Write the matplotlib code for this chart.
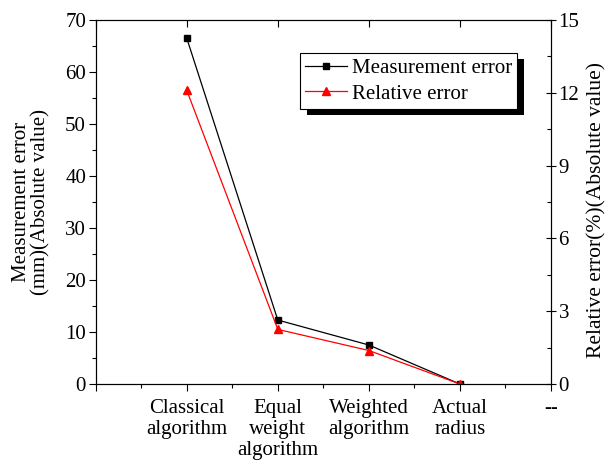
import matplotlib
matplotlib.use("Agg")
from matplotlib import pyplot as plt
from matplotlib.ticker import MultipleLocator
from matplotlib.patches import Rectangle
from matplotlib.transforms import IdentityTransform
import matplotlib.markers as mmarkers

plt.rcParams['font.family'] = ['Liberation Serif', 'DejaVu Serif']

# data
categories = ["", "Classical\nalgorithm", "Equal\nweight\nalgorithm",
              "Weighted\nalgorithm", "Actual\nradius", "--"]
x_pos = [1, 2, 3, 4]
measurement_error = [66.5, 12.3, 7.5, 0.0]
relative_error = [12.1, 2.25, 1.38, 0.0]

fs = 15
fig = plt.figure(figsize=(6.1, 4.66), dpi=100)
ax = fig.add_axes([0.157, 0.176, 0.746, 0.781])
ax2 = ax.twinx()

l1, = ax.plot(x_pos, measurement_error, color="black", marker="s",
              markersize=5, linewidth=0.9, label="Measurement error")
l2, = ax2.plot(x_pos, relative_error, color="red", marker="^",
               markersize=6, linewidth=0.9, label="Relative error")

ax.set_xlim(0, 5)
ax.set_ylim(0, 70)
ax2.set_ylim(0, 15)
ax.set_xticks(range(6))
ax.set_xticklabels(categories, fontsize=fs, linespacing=1.15)
ax.xaxis.set_minor_locator(MultipleLocator(0.5))
ax.yaxis.set_major_locator(MultipleLocator(10))
ax.yaxis.set_minor_locator(MultipleLocator(5))
ax2.yaxis.set_major_locator(MultipleLocator(3))
ax2.yaxis.set_minor_locator(MultipleLocator(1.5))

ax.tick_params(axis="x", which="major", direction="out", length=5, width=0.8,
               labelsize=fs, top=True, pad=6)
ax.tick_params(axis="x", which="minor", direction="out", length=3, width=0.8, top=False)
ax.tick_params(axis="y", which="major", direction="out", length=5, width=0.8,
               labelsize=fs, pad=2)
ax.tick_params(axis="y", which="minor", direction="out", length=3, width=0.8)
ax2.tick_params(axis="y", which="major", direction="inout", length=7, width=0.8,
                labelsize=fs, pad=2)
ax2.tick_params(axis="y", which="minor", direction="in", length=3, width=0.8)
# top ticks point inward
for t in ax.xaxis.get_major_ticks():
    t.tick2line.set_marker(mmarkers.TICKDOWN)
    t.tick2line.set_markersize(5)

ax.set_ylabel("Measurement error\n(mm)(Absolute value)", fontsize=fs,
              linespacing=1.0)
ax.yaxis.set_label_coords(-0.10, 0.5)
ax2.set_ylabel("Relative error(%)(Absolute value)", fontsize=15.5)
ax2.yaxis.set_label_coords(1.08, 0.478)

leg = ax2.legend([l1, l2], ["Measurement error", "Relative error"],
                 loc="upper left", bbox_to_anchor=(0.448, 0.909), fontsize=fs,
                 frameon=True, fancybox=False, shadow=False, framealpha=1,
                 handlelength=2.0, handletextpad=0.25, borderpad=0.25,
                 labelspacing=0.3, borderaxespad=0)
leg.get_frame().set_edgecolor("black")
leg.get_frame().set_linewidth(0.8)
leg.set_zorder(6)

# hard black shadow behind the legend box
fig.canvas.draw()
bb = leg.get_window_extent()
ax2.add_patch(Rectangle((bb.x0 + 7, bb.y0 - 6), bb.width, bb.height,
                        transform=IdentityTransform(), facecolor="black",
                        edgecolor="none", zorder=5.5, clip_on=False))

plt.savefig("out.png", dpi=100)
